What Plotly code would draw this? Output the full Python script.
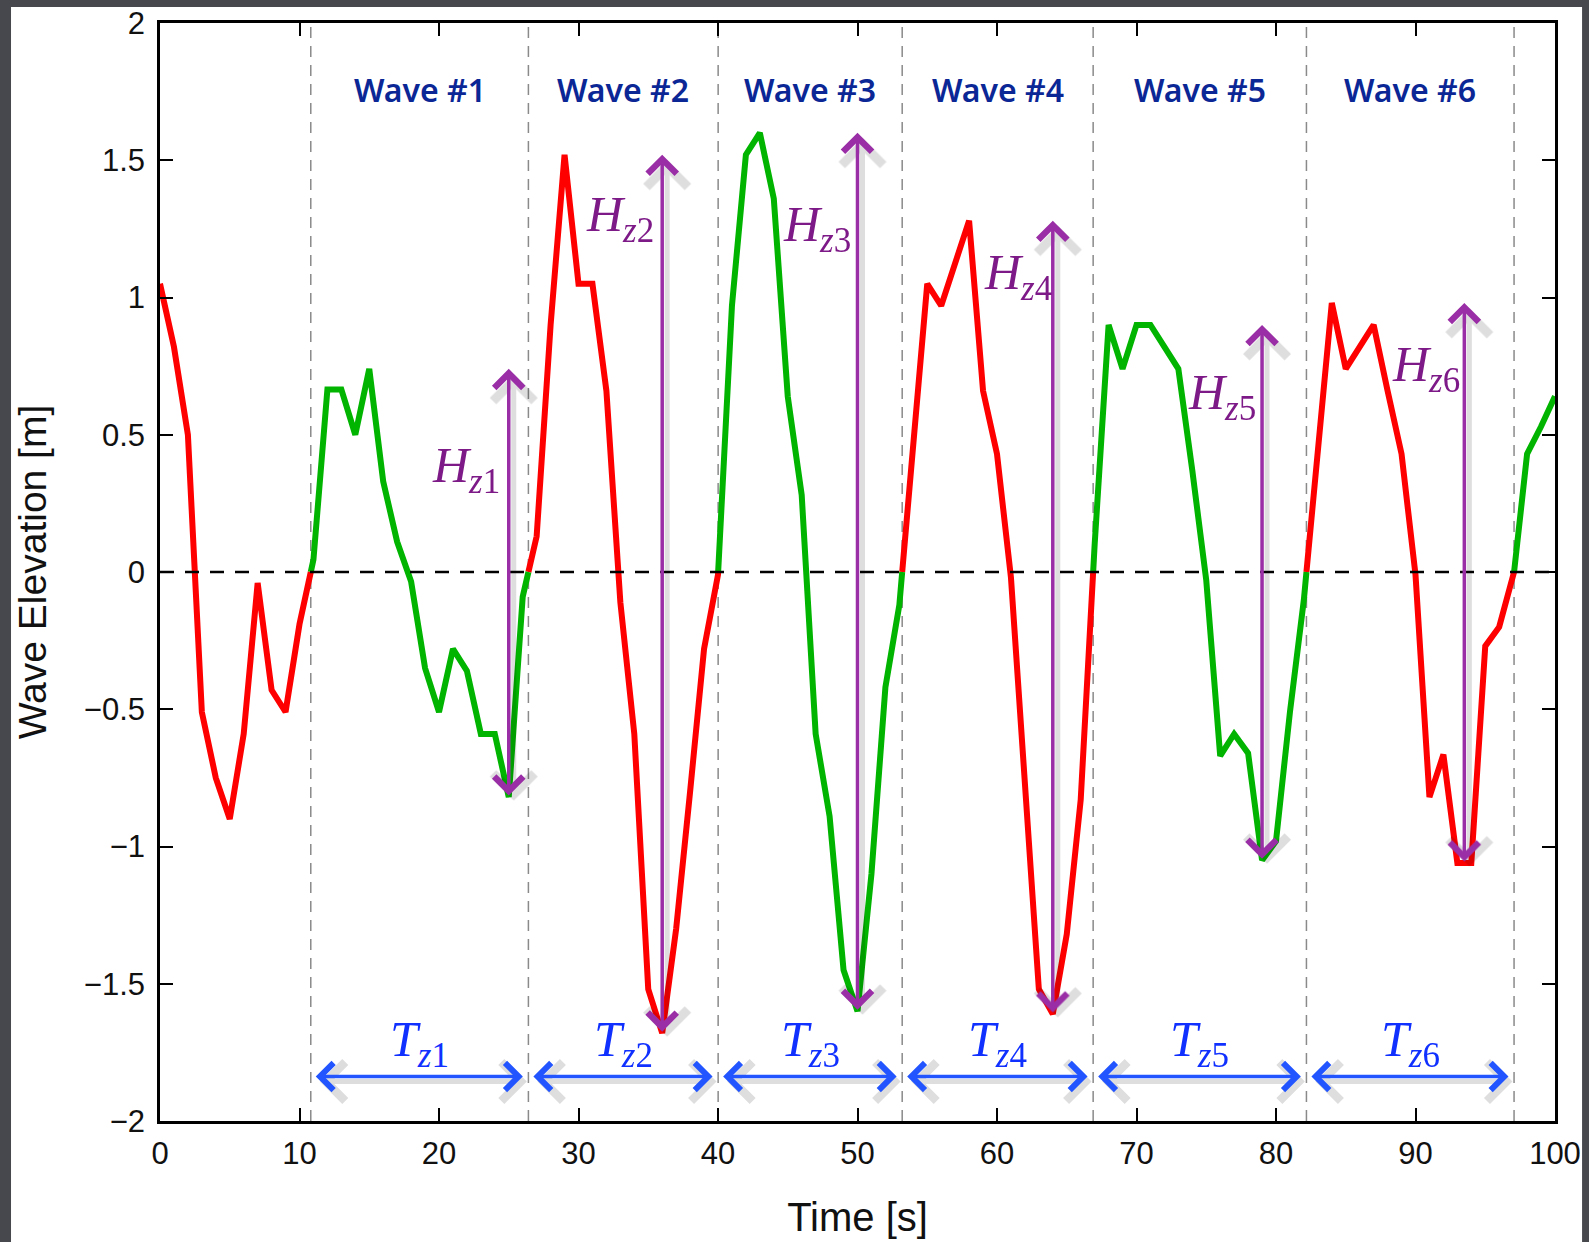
import plotly.graph_objects as go

# ---------------- data ----------------
time_s = list(range(0, 101))
elevation_m = [1.05, 0.82, 0.50, -0.51, -0.75, -0.90, -0.59, -0.04, -0.43, -0.51,
               -0.19, 0.045, 0.665, 0.665, 0.50, 0.74, 0.33, 0.11, -0.035, -0.35,
               -0.51, -0.28, -0.36, -0.59, -0.59, -0.82, -0.09, 0.13, 0.90, 1.52,
               1.05, 1.05, 0.66, -0.11, -0.59, -1.52, -1.68, -1.30, -0.80, -0.28,
               -0.01, 0.97, 1.52, 1.60, 1.36, 0.64, 0.28, -0.59, -0.89, -1.45,
               -1.60, -1.10, -0.42, -0.12, 0.47, 1.05, 0.97, 1.13, 1.28, 0.66,
               0.43, -0.02, -0.76, -1.52, -1.61, -1.32, -0.83, 0.10, 0.90, 0.74,
               0.90, 0.90, 0.82, 0.74, 0.37, -0.03, -0.67, -0.59, -0.66, -1.05,
               -0.98, -0.51, -0.10, 0.45, 0.98, 0.74, 0.82, 0.90, 0.66, 0.43,
               -0.01, -0.82, -0.665, -1.06, -1.06, -0.27, -0.20, -0.03, 0.43, 0.53,
               0.64]
wave_labels = ["Wave #1", "Wave #2", "Wave #3", "Wave #4", "Wave #5", "Wave #6"]
x_ticks = [0, 10, 20, 30, 40, 50, 60, 70, 80, 90, 100]
y_ticks = [-2, -1.5, -1, -0.5, 0, 0.5, 1, 1.5, 2]

# ---------------- layout constants (positions / styles) ----------------
hz_label_pos = [(24.55, 0.374), (35.55, 1.288), (49.65, 1.252),
                (64.05, 1.078), (78.7, 0.640), (93.35, 0.745)]
WAVE_LABEL_Y = 1.758
TZ_ARROW_Y = -1.838
TZ_LABEL_Y = -1.715
RED = "#ff0000"
GREEN = "#00b400"
PURPLE = "#9a2ea6"
HZ_TEXT = "#7e1a88"
BLUE_ARROW = "#2255ff"
TZ_TEXT = "#1030ff"
NAVY = "#0b2796"

# ---------------- zero up-crossings split the record into waves --------
crossings = []
for i in range(len(time_s) - 1):
    y0, y1 = elevation_m[i], elevation_m[i + 1]
    if y0 < 0 <= y1:
        t0, t1 = time_s[i], time_s[i + 1]
        crossings.append(t0 + (0 - y0) * (t1 - t0) / (y1 - y0))

bounds = [time_s[0]] + crossings + [time_s[-1]]
seg_x = {RED: [], GREEN: []}
seg_y = {RED: [], GREEN: []}
for k in range(len(bounds) - 1):
    a, b = bounds[k], bounds[k + 1]
    col = RED if k % 2 == 0 else GREEN
    xs, ys = [], []
    if k > 0:
        xs.append(a); ys.append(0.0)
    for t, y in zip(time_s, elevation_m):
        if a < t < b or (k == 0 and t == a) or (k == len(bounds) - 2 and t == b):
            xs.append(t); ys.append(y)
    if k < len(bounds) - 2:
        xs.append(b); ys.append(0.0)
    seg_x[col] += xs + [None]
    seg_y[col] += ys + [None]

fig = go.Figure()
for col in (RED, GREEN):
    fig.add_trace(go.Scatter(x=seg_x[col], y=seg_y[col], mode="lines",
                             line=dict(color=col, width=6), hoverinfo="skip"))

# white panel on dark backdrop
fig.add_shape(type="rect", xref="paper", yref="paper",
              x0=-0.1068, x1=1.0194, y0=-0.13, y1=1.0146,
              fillcolor="white", line=dict(width=0), layer="below")

# zero line
fig.add_shape(type="line", xref="paper", yref="y", x0=0, x1=1, y0=0, y1=0,
              line=dict(color="black", width=2.5, dash="14px,11px"), layer="above")

# dashed verticals at the zero up-crossings
for c in crossings:
    fig.add_shape(type="line", xref="x", yref="paper", x0=c, x1=c, y0=0, y1=1,
                  line=dict(color="#8a8a8a", width=1.5, dash="11px,8px"), layer="below")

annotations = []
for k in range(len(crossings) - 1):
    a, b = crossings[k], crossings[k + 1]
    pts = [(t, y) for t, y in zip(time_s, elevation_m) if a < t < b]
    crest = max(y for _, y in pts)
    trough = min(y for _, y in pts)
    tt = [t for t, y in pts if y == trough]
    t_tr = sum(tt) / len(tt)
    mid = (a + b) / 2

    # wave title
    annotations.append(dict(x=mid, y=WAVE_LABEL_Y, xref="x", yref="y",
                            text=wave_labels[k], showarrow=False,
                            font=dict(family="Noto Sans", size=32, weight=600,
                                      color=NAVY)))

    # H_z arrow (trough -> crest) with soft shadow
    for dx, dy, colr, w in ((5, -5, "rgba(0,0,0,0.13)", 5), (0, 0, PURPLE, 3.5)):
        annotations.append(dict(x=t_tr, y=crest, ax=t_tr, ay=trough,
                                xref="x", yref="y", axref="x", ayref="y",
                                text="", showarrow=True, arrowside="end+start",
                                arrowhead=4, startarrowhead=4,
                                arrowsize=1.6, startarrowsize=1.6,
                                arrowwidth=w, arrowcolor=colr,
                                xshift=dx, yshift=dy))
    hx, hy = hz_label_pos[k]
    annotations.append(dict(x=hx, y=hy, xref="x", yref="y", xanchor="right",
                            yanchor="middle", showarrow=False,
                            text=f"<i>H</i><sub><i>z</i>{k+1}</sub>",
                            font=dict(family="Liberation Serif", size=50, color=HZ_TEXT)))

    # T_z arrow (crossing -> crossing) with soft shadow
    for dx, dy, colr, w in ((4, -5, "rgba(0,0,0,0.13)", 5), (0, 0, BLUE_ARROW, 3.5)):
        annotations.append(dict(x=b - 0.4, y=TZ_ARROW_Y, ax=a + 0.25, ay=TZ_ARROW_Y,
                                xref="x", yref="y", axref="x", ayref="y",
                                text="", showarrow=True, arrowside="end+start",
                                arrowhead=4, startarrowhead=4,
                                arrowsize=1.5, startarrowsize=1.5,
                                arrowwidth=w, arrowcolor=colr,
                                xshift=dx, yshift=dy))
    annotations.append(dict(x=mid, y=TZ_LABEL_Y, xref="x", yref="y",
                            showarrow=False, yanchor="middle",
                            text=f"<i>T</i><sub><i>z</i>{k+1}</sub>",
                            font=dict(family="Liberation Serif", size=50, color=TZ_TEXT)))

fig.update_layout(
    width=1589, height=1242,
    margin=dict(l=160, r=34, t=23, b=121, pad=0, autoexpand=False),
    paper_bgcolor="#46484e", plot_bgcolor="white",
    showlegend=False, annotations=annotations,
)
axis_common = dict(ticks="inside", ticklen=13, tickwidth=2, tickcolor="black",
                   showline=True, linewidth=2.5, linecolor="black", mirror="ticks",
                   showgrid=False, zeroline=False, automargin=False,
                   tickfont=dict(family="Liberation Sans", size=31, color="#111"))
fig.update_xaxes(range=[0, 100], tickvals=x_ticks, ticklabelstandoff=3,
                 title=dict(text="Time [s]", standoff=34,
                            font=dict(family="Liberation Sans", size=40, color="#111")),
                 **axis_common)
fig.update_yaxes(range=[-2, 2], tickvals=y_ticks, ticklabelstandoff=6,
                 title=dict(text="Wave Elevation [m]", standoff=26,
                            font=dict(family="Liberation Sans", size=39, color="#111")),
                 **axis_common)

fig.write_html("out.html")
